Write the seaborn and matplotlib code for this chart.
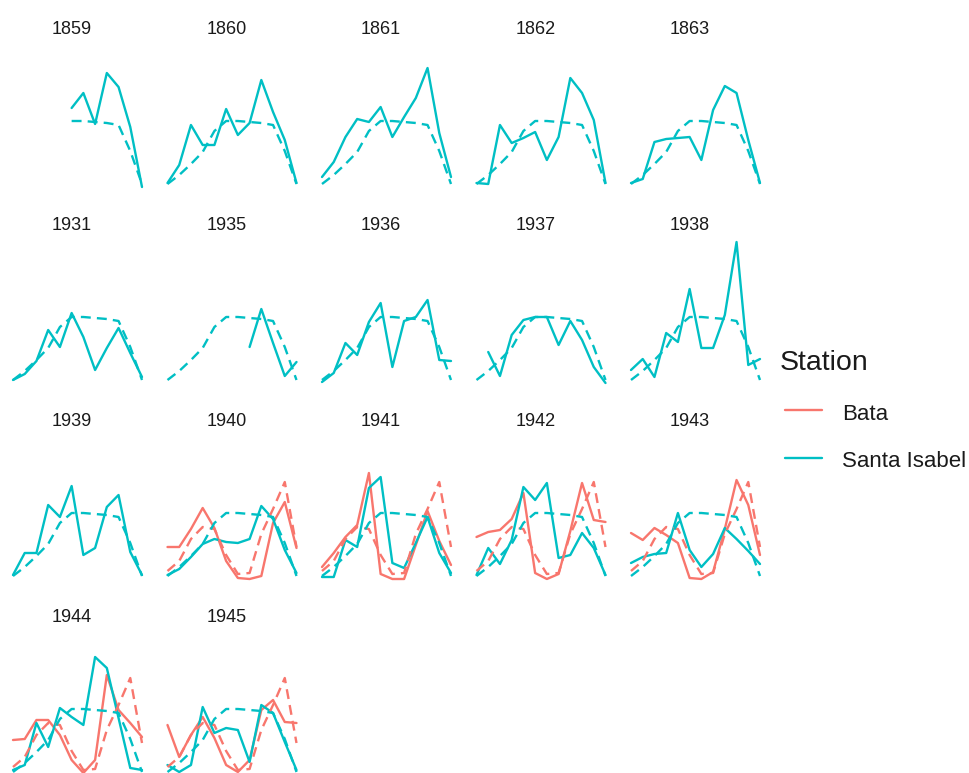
import matplotlib
matplotlib.use("Agg")
import matplotlib.pyplot as plt
from matplotlib.lines import Line2D
import numpy as np
import pandas as pd
import seaborn as sns

nan = np.nan
months = list(range(1, 13))
years = [1859, 1860, 1861, 1862, 1863,
         1931, 1935, 1936, 1937, 1938,
         1939, 1940, 1941, 1942, 1943,
         1944, 1945]

# monthly rainfall (solid lines)
si_1859 = [nan, nan, nan, nan, nan, 79, 94, 63, 114, 100, 60, 0]
si_1860 = [4, 22, 62, 42, 42, 78, 52, 64, 107, 75, 47, 4]
si_1861 = [10, 25, 50, 68, 65, 80, 50, 70, 89, 119, 54, 10]
si_1862 = [4, 3, 62, 44, 49, 55, 27, 50, 109, 94, 67, 4]
si_1863 = [4, 8, 45, 48, 49, 50, 27, 77, 101, 94, 47, 4]
si_1931 = [3, 9, 22, 53, 36, 70, 46, 13, 35, 55, 30, 6]
si_1935 = [nan, nan, nan, nan, nan, nan, nan, 36, 74, 40, 7, 21]
si_1936 = [1, 10, 40, 28, 61, 80, 16, 62, 66, 83, 23, 22]
si_1937 = [nan, 31, 7, 48, 63, 66, 66, 38, 62, 43, 16, 0]
si_1938 = [13, 24, 6, 50, 41, 94, 35, 35, 68, 141, 18, 24]
si_1939 = [4, 26, 26, 74, 62, 93, 24, 31, 72, 84, 27, 4]
si_1940 = [4, 10, 22, 35, 40, 37, 36, 40, 73, 60, 29, 6]
si_1941 = [2, 2, 39, 32, 91, 102, 16, 11, 36, 62, 26, 6]
si_1942 = [4, 31, 15, 39, 92, 79, 96, 21, 24, 46, 31, 4]
si_1943 = [16, 22, 25, 26, 66, 29, 12, 25, 51, 40, 28, 15]
si_1944 = [5, 10, 52, 28, 67, 58, 50, 118, 107, 57, 7, 5]
si_1945 = [10, 3, 10, 68, 42, 47, 45, 13, 70, 62, 33, 5]

ba_1940 = [32, 32, 50, 71, 51, 18, 1, 0, 3, 56, 77, 31]
ba_1941 = [12, 26, 42, 54, 106, 5, 0, 0, 34, 68, 38, 14]
ba_1942 = [42, 47, 49, 60, 86, 6, 0, 5, 48, 96, 59, 57]
ba_1943 = [46, 39, 51, 44, 36, 1, 0, 7, 50, 99, 74, 24]
ba_1944 = [35, 36, 55, 55, 40, 15, 2, 15, 100, 65, 52, 38]
ba_1945 = [50, 18, 40, 58, 37, 10, 3, 15, 65, 75, 53, 52]

# reference curves (dashed lines)
si_ref = [3, 12, 23, 35, 56, 66, 66, 65, 64, 62, 36, 3]
ba_ref = [8, 18, 40, 52, 50, 24, 5, 6, 45, 70, 97, 32]

santa = dict(zip(years, [si_1859, si_1860, si_1861, si_1862, si_1863,
                         si_1931, si_1935, si_1936, si_1937, si_1938,
                         si_1939, si_1940, si_1941, si_1942, si_1943,
                         si_1944, si_1945]))
bata = {1940: ba_1940, 1941: ba_1941, 1942: ba_1942,
        1943: ba_1943, 1944: ba_1944, 1945: ba_1945}

rows = []
for y in years:
    for m, v, r in zip(months, santa[y], si_ref):
        if y == 1859 and m < 6:
            r = nan
        rows.append((y, m, "Santa Isabel", v, r))
    if y in bata:
        for m, v, r in zip(months, bata[y], ba_ref):
            rows.append((y, m, "Bata", v, r))
df = pd.DataFrame(rows, columns=["year", "month", "Station", "rain", "ref"])

pal = {"Bata": "#F8766D", "Santa Isabel": "#00BFC4"}
order = ["Bata", "Santa Isabel"]

sns.set_style("white")
plt.rcParams["font.family"] = ["Liberation Sans", "DejaVu Sans"]

W, H = 969, 773
fig = plt.figure(figsize=(W / 100, H / 100), dpi=100)

ymax = df["rain"].max()
step = 129 / 11          # px per month
yspan = 141              # px spanned by the data range

for i, y in enumerate(years):
    r, c = divmod(i, 5)
    m1 = 13 + 154.5 * c
    base = 187 + 196 * r
    left = m1 - 0.55 * step
    top = base - 1.05 * yspan
    ax = fig.add_axes([left / W, 1 - (top + 1.1 * yspan) / H,
                       12.1 * step / W, 1.1 * yspan / H])
    sub = df[df["year"] == y]
    sns.lineplot(data=sub, x="month", y="rain", hue="Station", hue_order=order,
                 palette=pal, ax=ax, legend=False, lw=1.7)
    sns.lineplot(data=sub, x="month", y="ref", hue="Station", hue_order=order,
                 palette=pal, ax=ax, legend=False, lw=1.7,
                 linestyle=(0, (4.2, 2.6)))
    ax.set_xlim(1 - 0.55, 12 + 0.55)
    ax.set_ylim(-0.05 * ymax, 1.05 * ymax)
    ax.set_axis_off()
    fig.text((72 + 154.5 * c) / W, 1 - (34 + 196 * r) / H, str(y),
             ha="center", va="baseline", fontsize=13, color="#1a1a1a")

# legend
fig.text(780 / W, 1 - 370 / H, "Station", fontsize=20.5, color="#1a1a1a",
         va="baseline")
for lab, yk, yt in [("Bata", 410, 420), ("Santa Isabel", 458, 467)]:
    fig.add_artist(Line2D([785 / W, 822 / W], [1 - yk / H, 1 - yk / H],
                          color=pal[lab], lw=1.7, transform=fig.transFigure))
    fig.text(842 / W, 1 - yt / H, lab, fontsize=16, color="#1a1a1a",
             va="baseline")

fig.savefig("out.png", dpi=100)
